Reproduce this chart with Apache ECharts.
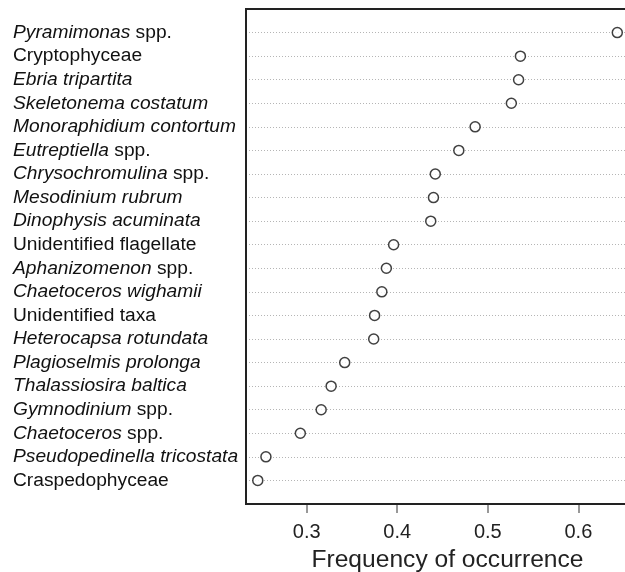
<!DOCTYPE html>
<html>
<head>
<meta charset="utf-8">
<title>Frequency of occurrence</title>
<script src="https://cdn.jsdelivr.net/npm/echarts@6/dist/echarts.min.js"></script>
<style>
  html, body { margin: 0; padding: 0; background: #fff; }
  #chart { width: 625px; height: 572px; }
</style>
</head>
<body>
<div id="chart"></div>
<script>
// Taxa, top to bottom: italic (scientific) part and upright part of each name
const taxonItalic = [
  'Pyramimonas', '', 'Ebria tripartita', 'Skeletonema costatum',
  'Monoraphidium contortum', 'Eutreptiella', 'Chrysochromulina',
  'Mesodinium rubrum', 'Dinophysis acuminata', '', 'Aphanizomenon',
  'Chaetoceros wighamii', '', 'Heterocapsa rotundata', 'Plagioselmis prolonga',
  'Thalassiosira baltica', 'Gymnodinium', 'Chaetoceros',
  'Pseudopedinella tricostata', ''
];
const taxonPlain = [
  'spp.', 'Cryptophyceae', '', '',
  '', 'spp.', 'spp.',
  '', '', 'Unidentified flagellate', 'spp.',
  '', 'Unidentified taxa', '', '',
  '', 'spp.', 'spp.',
  '', 'Craspedophyceae'
];
// Frequency of occurrence per taxon
const frequency = [
  0.643, 0.536, 0.534, 0.526,
  0.486, 0.468, 0.442,
  0.440, 0.437, 0.396, 0.388,
  0.383, 0.375, 0.374, 0.342,
  0.327, 0.316, 0.293,
  0.255, 0.246
];
const xTicks = [0.3, 0.4, 0.5, 0.6];

const FONT = "'Liberation Sans', Arial, Helvetica, sans-serif";
const LABEL_SIZE = 19.2;

function taxonLabel(i) {
  const it = taxonItalic[i], pl = taxonPlain[i];
  if (it && pl) return '{i|' + it + '}{n| ' + pl + '}';
  if (it) return '{i|' + it + '}';
  return '{n|' + pl + '}';
}

const points = frequency.map((v, i) => [v, i + 1]);

const chart = echarts.init(document.getElementById('chart'), null, { renderer: 'canvas' });
chart.setOption({
  animation: false,
  backgroundColor: '#fff',
  grid: {
    left: 246, top: 9, width: 403, height: 495,
    show: true, borderColor: '#222', borderWidth: 2,
    backgroundColor: 'transparent',
    z: 10,
    containLabel: false, outerBoundsMode: 'none'
  },
  xAxis: {
    type: 'value',
    min: 0.233, max: 0.678,
    axisLine: { show: true, onZero: false, lineStyle: { color: '#222', width: 2 } },
    splitLine: { show: false },
    axisTick: {
      show: true, customValues: xTicks, length: 9,
      lineStyle: { color: '#777', width: 1.5 }
    },
    axisLabel: {
      customValues: xTicks, margin: 18,
      fontFamily: FONT, fontSize: 20, color: '#222',
      formatter: v => v.toFixed(1)
    },
    name: 'Frequency of occurrence',
    nameLocation: 'middle', nameGap: 44,
    nameTextStyle: { fontFamily: FONT, fontSize: 24.6, color: '#222' }
  },
  yAxis: {
    type: 'value',
    inverse: true,
    min: 0, max: 21, interval: 1,
    axisLine: { show: false, onZero: false },
    axisTick: { show: false },
    splitLine: {
      show: true,
      lineStyle: { color: '#b5b5b5', type: [1, 2], width: 1 }
    },
    axisLabel: {
      align: 'left', margin: 233,
      fontFamily: FONT, fontSize: LABEL_SIZE, color: '#111',
      formatter: v => (v >= 1 && v <= frequency.length) ? taxonLabel(v - 1) : '',
      rich: {
        i: { fontFamily: FONT, fontSize: LABEL_SIZE, fontStyle: 'italic', color: '#111' },
        n: { fontFamily: FONT, fontSize: LABEL_SIZE, color: '#111' }
      }
    }
  },
  series: [{
    type: 'scatter',
    data: points,
    symbol: 'circle',
    symbolSize: 10,
    itemStyle: { color: '#fff', borderColor: '#111', borderWidth: 1.5 },
    z: 5
  }]
});
</script>
</body>
</html>
